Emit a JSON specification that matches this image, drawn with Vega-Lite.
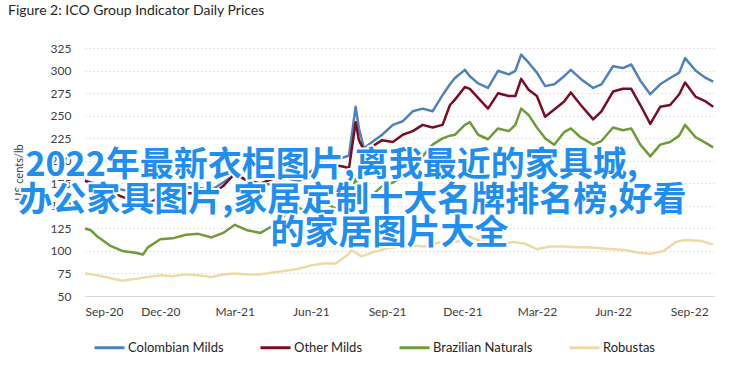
{
"$schema": "https://vega.github.io/schema/vega-lite/v6.json",
"width": 629, "height": 248,
"autosize": "none",
"padding": {"left": 85, "top": 48, "right": 34, "bottom": 91},
"background": "white",
"title": {"text": "Figure 2: ICO Group Indicator Daily Prices", "anchor": "start", "frame": "group", "dx": -77, "offset": 13, "baseline": "alphabetic", "font": "Lato", "fontSize": 14, "fontWeight": "normal", "color": "#262626"},
"config": {"view": {"stroke": null}, "font": "Lato"},
"data": {"values": [
{"date":"2020-09-01","series":"Colombian Milds","price":178},
{"date":"2020-09-16","series":"Colombian Milds","price":174},
{"date":"2020-10-01","series":"Colombian Milds","price":170},
{"date":"2020-10-16","series":"Colombian Milds","price":168},
{"date":"2020-11-01","series":"Colombian Milds","price":165},
{"date":"2020-11-16","series":"Colombian Milds","price":167},
{"date":"2020-12-01","series":"Colombian Milds","price":169},
{"date":"2020-12-16","series":"Colombian Milds","price":172},
{"date":"2021-01-01","series":"Colombian Milds","price":171},
{"date":"2021-01-16","series":"Colombian Milds","price":170},
{"date":"2021-02-01","series":"Colombian Milds","price":168},
{"date":"2021-02-15","series":"Colombian Milds","price":176},
{"date":"2021-03-01","series":"Colombian Milds","price":185},
{"date":"2021-03-16","series":"Colombian Milds","price":178},
{"date":"2021-04-01","series":"Colombian Milds","price":174},
{"date":"2021-04-16","series":"Colombian Milds","price":174},
{"date":"2021-05-01","series":"Colombian Milds","price":181},
{"date":"2021-05-16","series":"Colombian Milds","price":178},
{"date":"2021-06-01","series":"Colombian Milds","price":182},
{"date":"2021-06-13","series":"Colombian Milds","price":200},
{"date":"2021-06-23","series":"Colombian Milds","price":210},
{"date":"2021-07-08","series":"Colombian Milds","price":203},
{"date":"2021-07-17","series":"Colombian Milds","price":206},
{"date":"2021-07-25","series":"Colombian Milds","price":260},
{"date":"2021-07-29","series":"Colombian Milds","price":236},
{"date":"2021-08-04","series":"Colombian Milds","price":214},
{"date":"2021-08-14","series":"Colombian Milds","price":221},
{"date":"2021-08-26","series":"Colombian Milds","price":229},
{"date":"2021-09-08","series":"Colombian Milds","price":240},
{"date":"2021-09-20","series":"Colombian Milds","price":244},
{"date":"2021-10-02","series":"Colombian Milds","price":255},
{"date":"2021-10-14","series":"Colombian Milds","price":258},
{"date":"2021-10-26","series":"Colombian Milds","price":255},
{"date":"2021-11-07","series":"Colombian Milds","price":273},
{"date":"2021-11-16","series":"Colombian Milds","price":285},
{"date":"2021-11-22","series":"Colombian Milds","price":292},
{"date":"2021-12-04","series":"Colombian Milds","price":301},
{"date":"2021-12-10","series":"Colombian Milds","price":294},
{"date":"2021-12-20","series":"Colombian Milds","price":286},
{"date":"2022-01-01","series":"Colombian Milds","price":281},
{"date":"2022-01-13","series":"Colombian Milds","price":300},
{"date":"2022-01-26","series":"Colombian Milds","price":296},
{"date":"2022-02-03","series":"Colombian Milds","price":300},
{"date":"2022-02-10","series":"Colombian Milds","price":318},
{"date":"2022-02-19","series":"Colombian Milds","price":309},
{"date":"2022-03-01","series":"Colombian Milds","price":298},
{"date":"2022-03-11","series":"Colombian Milds","price":283},
{"date":"2022-03-22","series":"Colombian Milds","price":285},
{"date":"2022-04-03","series":"Colombian Milds","price":294},
{"date":"2022-04-11","series":"Colombian Milds","price":301},
{"date":"2022-04-23","series":"Colombian Milds","price":291},
{"date":"2022-05-08","series":"Colombian Milds","price":281},
{"date":"2022-05-18","series":"Colombian Milds","price":285},
{"date":"2022-06-01","series":"Colombian Milds","price":305},
{"date":"2022-06-13","series":"Colombian Milds","price":303},
{"date":"2022-06-23","series":"Colombian Milds","price":307},
{"date":"2022-07-04","series":"Colombian Milds","price":289},
{"date":"2022-07-16","series":"Colombian Milds","price":274},
{"date":"2022-07-28","series":"Colombian Milds","price":285},
{"date":"2022-08-09","series":"Colombian Milds","price":292},
{"date":"2022-08-20","series":"Colombian Milds","price":298},
{"date":"2022-08-27","series":"Colombian Milds","price":314},
{"date":"2022-09-09","series":"Colombian Milds","price":300},
{"date":"2022-09-21","series":"Colombian Milds","price":292},
{"date":"2022-09-30","series":"Colombian Milds","price":288},
{"date":"2020-09-01","series":"Other Milds","price":178},
{"date":"2020-09-16","series":"Other Milds","price":172},
{"date":"2020-10-01","series":"Other Milds","price":166},
{"date":"2020-10-16","series":"Other Milds","price":160},
{"date":"2020-11-01","series":"Other Milds","price":155},
{"date":"2020-11-10","series":"Other Milds","price":146},
{"date":"2020-11-16","series":"Other Milds","price":152},
{"date":"2020-12-01","series":"Other Milds","price":160},
{"date":"2020-12-16","series":"Other Milds","price":163},
{"date":"2021-01-01","series":"Other Milds","price":164},
{"date":"2021-01-16","series":"Other Milds","price":164},
{"date":"2021-02-01","series":"Other Milds","price":163},
{"date":"2021-02-15","series":"Other Milds","price":172},
{"date":"2021-03-01","series":"Other Milds","price":186},
{"date":"2021-03-16","series":"Other Milds","price":178},
{"date":"2021-04-01","series":"Other Milds","price":175},
{"date":"2021-04-16","series":"Other Milds","price":180},
{"date":"2021-05-01","series":"Other Milds","price":182},
{"date":"2021-05-16","series":"Other Milds","price":184},
{"date":"2021-06-01","series":"Other Milds","price":188},
{"date":"2021-06-13","series":"Other Milds","price":198},
{"date":"2021-06-23","series":"Other Milds","price":196},
{"date":"2021-07-08","series":"Other Milds","price":194},
{"date":"2021-07-17","series":"Other Milds","price":192},
{"date":"2021-07-25","series":"Other Milds","price":243},
{"date":"2021-07-29","series":"Other Milds","price":223},
{"date":"2021-08-04","series":"Other Milds","price":212},
{"date":"2021-08-14","series":"Other Milds","price":216},
{"date":"2021-08-26","series":"Other Milds","price":223},
{"date":"2021-09-08","series":"Other Milds","price":221},
{"date":"2021-09-20","series":"Other Milds","price":229},
{"date":"2021-10-02","series":"Other Milds","price":233},
{"date":"2021-10-14","series":"Other Milds","price":240},
{"date":"2021-10-26","series":"Other Milds","price":237},
{"date":"2021-11-07","series":"Other Milds","price":240},
{"date":"2021-11-16","series":"Other Milds","price":262},
{"date":"2021-11-22","series":"Other Milds","price":268},
{"date":"2021-12-04","series":"Other Milds","price":282},
{"date":"2021-12-10","series":"Other Milds","price":280},
{"date":"2021-12-20","series":"Other Milds","price":270},
{"date":"2022-01-01","series":"Other Milds","price":258},
{"date":"2022-01-13","series":"Other Milds","price":275},
{"date":"2022-01-26","series":"Other Milds","price":272},
{"date":"2022-02-03","series":"Other Milds","price":272},
{"date":"2022-02-10","series":"Other Milds","price":291},
{"date":"2022-02-19","series":"Other Milds","price":279},
{"date":"2022-03-01","series":"Other Milds","price":272},
{"date":"2022-03-11","series":"Other Milds","price":249},
{"date":"2022-03-22","series":"Other Milds","price":257},
{"date":"2022-04-03","series":"Other Milds","price":266},
{"date":"2022-04-11","series":"Other Milds","price":276},
{"date":"2022-04-23","series":"Other Milds","price":262},
{"date":"2022-05-08","series":"Other Milds","price":246},
{"date":"2022-05-18","series":"Other Milds","price":255},
{"date":"2022-06-01","series":"Other Milds","price":277},
{"date":"2022-06-13","series":"Other Milds","price":280},
{"date":"2022-06-23","series":"Other Milds","price":280},
{"date":"2022-07-04","series":"Other Milds","price":262},
{"date":"2022-07-16","series":"Other Milds","price":241},
{"date":"2022-07-28","series":"Other Milds","price":260},
{"date":"2022-08-09","series":"Other Milds","price":262},
{"date":"2022-08-20","series":"Other Milds","price":274},
{"date":"2022-08-27","series":"Other Milds","price":287},
{"date":"2022-09-09","series":"Other Milds","price":271},
{"date":"2022-09-21","series":"Other Milds","price":266},
{"date":"2022-09-30","series":"Other Milds","price":260},
{"date":"2020-09-01","series":"Brazilian Naturals","price":125},
{"date":"2020-09-08","series":"Brazilian Naturals","price":123},
{"date":"2020-09-16","series":"Brazilian Naturals","price":116},
{"date":"2020-10-01","series":"Brazilian Naturals","price":106},
{"date":"2020-10-16","series":"Brazilian Naturals","price":100},
{"date":"2020-11-01","series":"Brazilian Naturals","price":98},
{"date":"2020-11-10","series":"Brazilian Naturals","price":96},
{"date":"2020-11-16","series":"Brazilian Naturals","price":104},
{"date":"2020-12-01","series":"Brazilian Naturals","price":113},
{"date":"2020-12-16","series":"Brazilian Naturals","price":114},
{"date":"2021-01-01","series":"Brazilian Naturals","price":118},
{"date":"2021-01-16","series":"Brazilian Naturals","price":119},
{"date":"2021-02-01","series":"Brazilian Naturals","price":115},
{"date":"2021-02-15","series":"Brazilian Naturals","price":120},
{"date":"2021-03-01","series":"Brazilian Naturals","price":129},
{"date":"2021-03-16","series":"Brazilian Naturals","price":123},
{"date":"2021-04-01","series":"Brazilian Naturals","price":120},
{"date":"2021-04-16","series":"Brazilian Naturals","price":128},
{"date":"2021-05-01","series":"Brazilian Naturals","price":140},
{"date":"2021-05-10","series":"Brazilian Naturals","price":151},
{"date":"2021-05-27","series":"Brazilian Naturals","price":144},
{"date":"2021-06-08","series":"Brazilian Naturals","price":155},
{"date":"2021-06-23","series":"Brazilian Naturals","price":151},
{"date":"2021-07-08","series":"Brazilian Naturals","price":144},
{"date":"2021-07-17","series":"Brazilian Naturals","price":152},
{"date":"2021-07-25","series":"Brazilian Naturals","price":180},
{"date":"2021-07-29","series":"Brazilian Naturals","price":168},
{"date":"2021-08-04","series":"Brazilian Naturals","price":158},
{"date":"2021-08-14","series":"Brazilian Naturals","price":162},
{"date":"2021-08-26","series":"Brazilian Naturals","price":172},
{"date":"2021-09-08","series":"Brazilian Naturals","price":176},
{"date":"2021-09-20","series":"Brazilian Naturals","price":182},
{"date":"2021-10-02","series":"Brazilian Naturals","price":192},
{"date":"2021-10-14","series":"Brazilian Naturals","price":205},
{"date":"2021-10-26","series":"Brazilian Naturals","price":218},
{"date":"2021-11-07","series":"Brazilian Naturals","price":225},
{"date":"2021-11-16","series":"Brazilian Naturals","price":228},
{"date":"2021-11-22","series":"Brazilian Naturals","price":229},
{"date":"2021-12-04","series":"Brazilian Naturals","price":240},
{"date":"2021-12-10","series":"Brazilian Naturals","price":243},
{"date":"2021-12-20","series":"Brazilian Naturals","price":229},
{"date":"2022-01-01","series":"Brazilian Naturals","price":224},
{"date":"2022-01-13","series":"Brazilian Naturals","price":236},
{"date":"2022-01-26","series":"Brazilian Naturals","price":233},
{"date":"2022-02-03","series":"Brazilian Naturals","price":240},
{"date":"2022-02-10","series":"Brazilian Naturals","price":258},
{"date":"2022-02-19","series":"Brazilian Naturals","price":251},
{"date":"2022-03-01","series":"Brazilian Naturals","price":237},
{"date":"2022-03-11","series":"Brazilian Naturals","price":225},
{"date":"2022-03-22","series":"Brazilian Naturals","price":218},
{"date":"2022-04-03","series":"Brazilian Naturals","price":232},
{"date":"2022-04-11","series":"Brazilian Naturals","price":236},
{"date":"2022-04-23","series":"Brazilian Naturals","price":226},
{"date":"2022-05-08","series":"Brazilian Naturals","price":218},
{"date":"2022-05-18","series":"Brazilian Naturals","price":222},
{"date":"2022-06-01","series":"Brazilian Naturals","price":237},
{"date":"2022-06-13","series":"Brazilian Naturals","price":234},
{"date":"2022-06-23","series":"Brazilian Naturals","price":236},
{"date":"2022-07-04","series":"Brazilian Naturals","price":218},
{"date":"2022-07-16","series":"Brazilian Naturals","price":205},
{"date":"2022-07-28","series":"Brazilian Naturals","price":218},
{"date":"2022-08-09","series":"Brazilian Naturals","price":221},
{"date":"2022-08-20","series":"Brazilian Naturals","price":228},
{"date":"2022-08-27","series":"Brazilian Naturals","price":240},
{"date":"2022-09-09","series":"Brazilian Naturals","price":226},
{"date":"2022-09-21","series":"Brazilian Naturals","price":220},
{"date":"2022-09-30","series":"Brazilian Naturals","price":215},
{"date":"2020-09-01","series":"Robustas","price":75},
{"date":"2020-09-16","series":"Robustas","price":73},
{"date":"2020-10-01","series":"Robustas","price":70},
{"date":"2020-10-16","series":"Robustas","price":67},
{"date":"2020-11-01","series":"Robustas","price":69},
{"date":"2020-11-16","series":"Robustas","price":71},
{"date":"2020-12-01","series":"Robustas","price":73},
{"date":"2020-12-16","series":"Robustas","price":72},
{"date":"2021-01-01","series":"Robustas","price":74},
{"date":"2021-01-16","series":"Robustas","price":73},
{"date":"2021-02-01","series":"Robustas","price":71},
{"date":"2021-02-15","series":"Robustas","price":74},
{"date":"2021-03-01","series":"Robustas","price":75},
{"date":"2021-03-16","series":"Robustas","price":74},
{"date":"2021-04-01","series":"Robustas","price":74},
{"date":"2021-04-16","series":"Robustas","price":76},
{"date":"2021-05-01","series":"Robustas","price":78},
{"date":"2021-05-16","series":"Robustas","price":80},
{"date":"2021-06-01","series":"Robustas","price":84},
{"date":"2021-06-16","series":"Robustas","price":86},
{"date":"2021-07-01","series":"Robustas","price":86},
{"date":"2021-07-16","series":"Robustas","price":96},
{"date":"2021-07-20","series":"Robustas","price":101},
{"date":"2021-08-01","series":"Robustas","price":94},
{"date":"2021-08-16","series":"Robustas","price":99},
{"date":"2021-09-01","series":"Robustas","price":103},
{"date":"2021-09-16","series":"Robustas","price":105},
{"date":"2021-10-01","series":"Robustas","price":106},
{"date":"2021-10-16","series":"Robustas","price":105},
{"date":"2021-11-01","series":"Robustas","price":109},
{"date":"2021-11-16","series":"Robustas","price":110},
{"date":"2021-12-01","series":"Robustas","price":111},
{"date":"2021-12-10","series":"Robustas","price":116},
{"date":"2021-12-16","series":"Robustas","price":113},
{"date":"2022-01-01","series":"Robustas","price":111},
{"date":"2022-01-16","series":"Robustas","price":108},
{"date":"2022-02-01","series":"Robustas","price":110},
{"date":"2022-02-15","series":"Robustas","price":108},
{"date":"2022-03-01","series":"Robustas","price":102},
{"date":"2022-03-16","series":"Robustas","price":105},
{"date":"2022-04-01","series":"Robustas","price":105},
{"date":"2022-04-16","series":"Robustas","price":104},
{"date":"2022-05-01","series":"Robustas","price":104},
{"date":"2022-05-16","series":"Robustas","price":103},
{"date":"2022-06-01","series":"Robustas","price":102},
{"date":"2022-06-16","series":"Robustas","price":101},
{"date":"2022-07-01","series":"Robustas","price":98},
{"date":"2022-07-16","series":"Robustas","price":97},
{"date":"2022-08-01","series":"Robustas","price":100},
{"date":"2022-08-16","series":"Robustas","price":110},
{"date":"2022-08-26","series":"Robustas","price":112},
{"date":"2022-09-01","series":"Robustas","price":112},
{"date":"2022-09-16","series":"Robustas","price":111},
{"date":"2022-09-30","series":"Robustas","price":107}
]},
"layer": [
{
"mark": {"type": "line", "strokeWidth": 2.5, "strokeJoin": "round"},
"encoding": {
"x": {"field": "date", "type": "temporal",
"scale": {"type": "utc", "domain": [{"year": 2020, "month": 9, "date": 1, "utc": true}, {"year": 2022, "month": 10, "date": 1, "utc": true}]},
"axis": {"title": null, "format": "%b-%y", "grid": false, "ticks": false, "domain": true, "domainColor": "#d9d9d9", "domainWidth": 1, "labelFont": "Lato", "labelFontSize": 12, "labelColor": "#404040", "labelPadding": 10, "labelOverlap": false,
"values": [{"year": 2020, "month": 9, "date": 1, "utc": true}, {"year": 2020, "month": 12, "date": 1, "utc": true}, {"year": 2021, "month": 3, "date": 1, "utc": true}, {"year": 2021, "month": 6, "date": 1, "utc": true}, {"year": 2021, "month": 9, "date": 1, "utc": true}, {"year": 2021, "month": 12, "date": 1, "utc": true}, {"year": 2022, "month": 3, "date": 1, "utc": true}, {"year": 2022, "month": 6, "date": 1, "utc": true}, {"year": 2022, "month": 9, "date": 1, "utc": true}]}},
"y": {"field": "price", "type": "quantitative",
"scale": {"domain": [50, 325.3], "nice": false, "zero": false},
"axis": {"title": "US cents/lb", "titleFont": "Lato", "titleFontSize": 11, "titleFontWeight": "normal", "titleColor": "#404040", "titlePadding": 26, "labelOverlap": false, "labelBound": false, "values": [50, 75, 100, 125, 150, 175, 200, 225, 250, 275, 300, 325], "grid": true, "gridColor": "#c8c8c8", "gridDash": [1, 3], "gridWidth": 1, "ticks": false, "domain": false, "labelFont": "Lato", "labelFontSize": 12, "labelColor": "#404040", "labelPadding": 14}},
"color": {"field": "series", "type": "nominal",
"scale": {"domain": ["Colombian Milds", "Other Milds", "Brazilian Naturals", "Robustas"], "range": ["#4f81bd", "#7b0c26", "#6f9b3a", "#efd9a4"]},
"legend": {"orient": "none", "legendX": 8, "legendY": 283, "direction": "horizontal", "title": null, "symbolType": "stroke", "symbolSize": 900, "symbolStrokeWidth": 3, "labelFont": "Lato", "labelFontSize": 13, "labelColor": "#262626", "labelOffset": 2, "columnPadding": 30}}
}
},
{
"data": {"values": [{}]},
"encoding": {
"x": {"datum": {"year": 2021, "month": 6, "date": 26, "utc": true}, "type": "temporal",
"axis": {"title": null, "format": "%b-%y", "grid": false, "ticks": false, "domain": true, "domainColor": "#d9d9d9", "domainWidth": 1, "labelFont": "Lato", "labelFontSize": 12, "labelColor": "#404040", "labelPadding": 10, "labelOverlap": false,
"values": [{"year": 2020, "month": 9, "date": 1, "utc": true}, {"year": 2020, "month": 12, "date": 1, "utc": true}, {"year": 2021, "month": 3, "date": 1, "utc": true}, {"year": 2021, "month": 6, "date": 1, "utc": true}, {"year": 2021, "month": 9, "date": 1, "utc": true}, {"year": 2021, "month": 12, "date": 1, "utc": true}, {"year": 2022, "month": 3, "date": 1, "utc": true}, {"year": 2022, "month": 6, "date": 1, "utc": true}, {"year": 2022, "month": 9, "date": 1, "utc": true}]}},
"y": {"datum": 194, "type": "quantitative",
"axis": {"title": "US cents/lb", "titleFont": "Lato", "titleFontSize": 11, "titleFontWeight": "normal", "titleColor": "#404040", "titlePadding": 26, "labelOverlap": false, "labelBound": false, "values": [50, 75, 100, 125, 150, 175, 200, 225, 250, 275, 300, 325], "grid": true, "gridColor": "#c8c8c8", "gridDash": [1, 3], "gridWidth": 1, "ticks": false, "domain": false, "labelFont": "Lato", "labelFontSize": 12, "labelColor": "#404040", "labelPadding": 14}},
"text": {"value": "2022年最新衣柜图片,离我最近的家具城,"}},
"layer": [
{"mark": {"type": "text", "font": "Noto Sans CJK SC", "fontSize": 34, "fontWeight": "bold", "align": "center", "baseline": "middle", "fill": "white", "stroke": "white", "strokeWidth": 4, "strokeJoin": "round"}},
{"mark": {"type": "text", "font": "Noto Sans CJK SC", "fontSize": 34, "fontWeight": "bold", "align": "center", "baseline": "middle", "fill": "#1e8ff0"}}
]
},
{
"data": {"values": [{}]},
"encoding": {
"x": {"datum": {"year": 2021, "month": 7, "date": 21, "utc": true}, "type": "temporal",
"axis": {"title": null, "format": "%b-%y", "grid": false, "ticks": false, "domain": true, "domainColor": "#d9d9d9", "domainWidth": 1, "labelFont": "Lato", "labelFontSize": 12, "labelColor": "#404040", "labelPadding": 10, "labelOverlap": false,
"values": [{"year": 2020, "month": 9, "date": 1, "utc": true}, {"year": 2020, "month": 12, "date": 1, "utc": true}, {"year": 2021, "month": 3, "date": 1, "utc": true}, {"year": 2021, "month": 6, "date": 1, "utc": true}, {"year": 2021, "month": 9, "date": 1, "utc": true}, {"year": 2021, "month": 12, "date": 1, "utc": true}, {"year": 2022, "month": 3, "date": 1, "utc": true}, {"year": 2022, "month": 6, "date": 1, "utc": true}, {"year": 2022, "month": 9, "date": 1, "utc": true}]}},
"y": {"datum": 155.5, "type": "quantitative",
"axis": {"title": "US cents/lb", "titleFont": "Lato", "titleFontSize": 11, "titleFontWeight": "normal", "titleColor": "#404040", "titlePadding": 26, "labelOverlap": false, "labelBound": false, "values": [50, 75, 100, 125, 150, 175, 200, 225, 250, 275, 300, 325], "grid": true, "gridColor": "#c8c8c8", "gridDash": [1, 3], "gridWidth": 1, "ticks": false, "domain": false, "labelFont": "Lato", "labelFontSize": 12, "labelColor": "#404040", "labelPadding": 14}},
"text": {"value": "办公家具图片,家居定制十大名牌排名榜,好看"}},
"layer": [
{"mark": {"type": "text", "font": "Noto Sans CJK SC", "fontSize": 34, "fontWeight": "bold", "align": "center", "baseline": "middle", "fill": "white", "stroke": "white", "strokeWidth": 4, "strokeJoin": "round"}},
{"mark": {"type": "text", "font": "Noto Sans CJK SC", "fontSize": 34, "fontWeight": "bold", "align": "center", "baseline": "middle", "fill": "#1e8ff0"}}
]
},
{
"data": {"values": [{}]},
"encoding": {
"x": {"datum": {"year": 2021, "month": 9, "date": 4, "utc": true}, "type": "temporal",
"axis": {"title": null, "format": "%b-%y", "grid": false, "ticks": false, "domain": true, "domainColor": "#d9d9d9", "domainWidth": 1, "labelFont": "Lato", "labelFontSize": 12, "labelColor": "#404040", "labelPadding": 10, "labelOverlap": false,
"values": [{"year": 2020, "month": 9, "date": 1, "utc": true}, {"year": 2020, "month": 12, "date": 1, "utc": true}, {"year": 2021, "month": 3, "date": 1, "utc": true}, {"year": 2021, "month": 6, "date": 1, "utc": true}, {"year": 2021, "month": 9, "date": 1, "utc": true}, {"year": 2021, "month": 12, "date": 1, "utc": true}, {"year": 2022, "month": 3, "date": 1, "utc": true}, {"year": 2022, "month": 6, "date": 1, "utc": true}, {"year": 2022, "month": 9, "date": 1, "utc": true}]}},
"y": {"datum": 119, "type": "quantitative",
"axis": {"title": "US cents/lb", "titleFont": "Lato", "titleFontSize": 11, "titleFontWeight": "normal", "titleColor": "#404040", "titlePadding": 26, "labelOverlap": false, "labelBound": false, "values": [50, 75, 100, 125, 150, 175, 200, 225, 250, 275, 300, 325], "grid": true, "gridColor": "#c8c8c8", "gridDash": [1, 3], "gridWidth": 1, "ticks": false, "domain": false, "labelFont": "Lato", "labelFontSize": 12, "labelColor": "#404040", "labelPadding": 14}},
"text": {"value": "的家居图片大全"}},
"layer": [
{"mark": {"type": "text", "font": "Noto Sans CJK SC", "fontSize": 34, "fontWeight": "bold", "align": "center", "baseline": "middle", "fill": "white", "stroke": "white", "strokeWidth": 4, "strokeJoin": "round"}},
{"mark": {"type": "text", "font": "Noto Sans CJK SC", "fontSize": 34, "fontWeight": "bold", "align": "center", "baseline": "middle", "fill": "#1e8ff0"}}
]
}
]
}
